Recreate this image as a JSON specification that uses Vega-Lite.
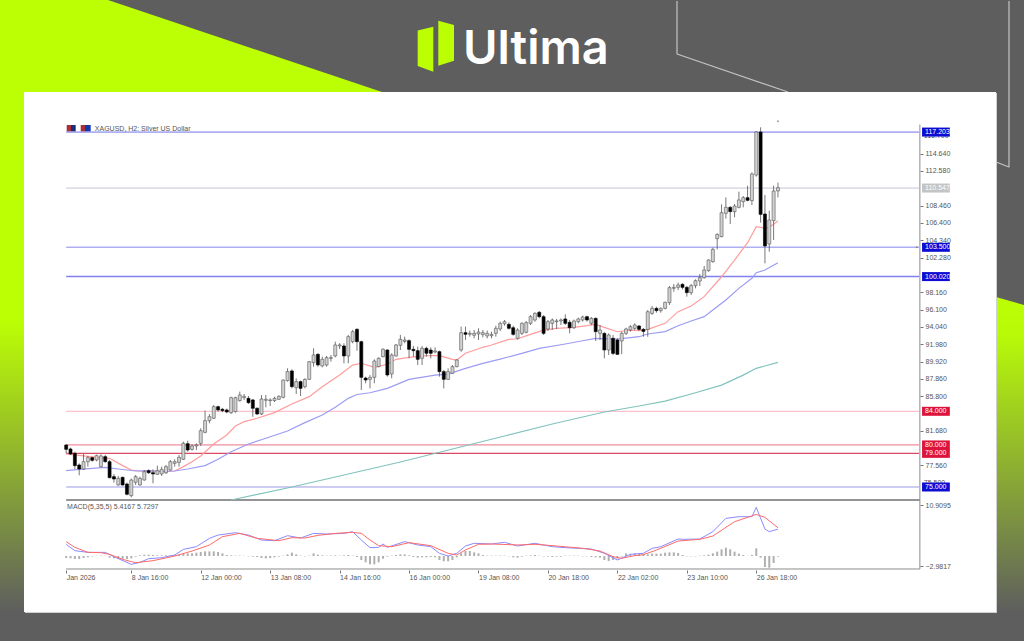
{"$schema":"https://vega.github.io/schema/vega-lite/v6.json","autosize":{"type":"fit","contains":"padding"},"width":1024,"height":643,"padding":0,"background":"#ffffff","view":{"stroke":null},
"datasets":{
"candles":[
{"i":0,"o":79.99,"h":80.11,"l":79.0,"c":79.48,"m":-1.16},{"i":1,"o":79.52,"h":79.68,"l":78.81,"c":78.93,"m":-1.23},{"i":2,"o":79.0,"h":79.2,"l":77.14,"c":77.54,"m":-1.38},{"i":3,"o":77.62,"h":77.81,"l":76.39,"c":77.14,"m":-1.38},{"i":4,"o":77.14,"h":78.92,"l":77.02,"c":78.01,"m":-1.16},{"i":5,"o":78.01,"h":78.69,"l":77.42,"c":78.49,"m":-1.0},{"i":6,"o":78.49,"h":78.61,"l":78.01,"c":78.17,"m":-0.78},{"i":7,"o":78.21,"h":78.85,"l":78.05,"c":78.73,"m":-0.62},{"i":8,"o":77.42,"h":78.89,"l":77.34,"c":78.69,"m":-0.62},{"i":9,"o":78.61,"h":78.81,"l":77.89,"c":78.01,"m":-0.62},
{"i":10,"o":78.01,"h":78.21,"l":76.03,"c":76.11,"m":-1.08},{"i":11,"o":76.23,"h":76.55,"l":75.52,"c":75.95,"m":-1.23},{"i":12,"o":75.24,"h":76.31,"l":75.16,"c":76.03,"m":-1.38},{"i":13,"o":76.15,"h":76.23,"l":75.16,"c":75.24,"m":-1.38},{"i":14,"o":75.36,"h":75.52,"l":74.01,"c":74.13,"m":-1.38},{"i":15,"o":73.97,"h":76.0,"l":73.77,"c":75.83,"m":-1.23},{"i":16,"o":75.56,"h":76.43,"l":75.24,"c":76.23,"m":-0.85},{"i":17,"o":75.24,"h":76.23,"l":75.16,"c":76.03,"m":-0.55},{"i":18,"o":75.83,"h":77.02,"l":75.75,"c":76.82,"m":-0.4},{"i":19,"o":76.94,"h":77.1,"l":76.55,"c":76.7,"m":-0.4},
{"i":20,"o":76.7,"h":77.1,"l":75.44,"c":76.55,"m":-0.47},{"i":21,"o":76.51,"h":77.54,"l":76.43,"c":76.94,"m":-0.55},{"i":22,"o":76.55,"h":77.42,"l":76.31,"c":77.1,"m":-0.55},{"i":23,"o":76.7,"h":77.62,"l":76.55,"c":77.42,"m":-0.55},{"i":24,"o":77.02,"h":78.21,"l":76.94,"c":78.01,"m":-0.55},{"i":25,"o":77.81,"h":78.29,"l":77.42,"c":78.01,"m":-0.47},{"i":26,"o":77.93,"h":78.81,"l":77.42,"c":78.53,"m":-0.4},{"i":27,"o":78.29,"h":80.39,"l":78.21,"c":80.19,"m":-0.24},{"i":28,"o":80.15,"h":80.51,"l":79.2,"c":79.4,"m":-0.09},{"i":29,"o":79.48,"h":80.07,"l":79.32,"c":79.88,"m":-0.09},
{"i":30,"o":79.88,"h":80.19,"l":79.4,"c":80.0,"m":0.06},{"i":31,"o":80.19,"h":81.98,"l":79.88,"c":81.7,"m":0.21},{"i":32,"o":81.5,"h":84.08,"l":81.38,"c":82.89,"m":0.36},{"i":33,"o":82.89,"h":83.68,"l":82.57,"c":83.36,"m":0.36},{"i":34,"o":83.17,"h":84.75,"l":83.09,"c":84.55,"m":0.36},{"i":35,"o":84.55,"h":84.67,"l":83.96,"c":84.16,"m":0.21},{"i":36,"o":84.24,"h":84.4,"l":83.9,"c":84.08,"m":-0.09},{"i":37,"o":84.16,"h":84.32,"l":83.76,"c":83.92,"m":-0.47},{"i":38,"o":83.84,"h":85.74,"l":83.68,"c":85.62,"m":-0.55},{"i":39,"o":83.96,"h":85.74,"l":83.84,"c":85.62,"m":-0.62},
{"i":40,"o":85.27,"h":86.34,"l":85.15,"c":85.94,"m":-0.62},{"i":41,"o":85.62,"h":86.06,"l":85.35,"c":85.78,"m":-0.66},{"i":42,"o":85.54,"h":85.82,"l":84.87,"c":85.03,"m":-0.78},{"i":43,"o":85.35,"h":85.47,"l":83.36,"c":84.36,"m":-0.85},{"i":44,"o":84.36,"h":84.47,"l":83.56,"c":83.68,"m":-0.93},{"i":45,"o":83.68,"h":85.94,"l":83.56,"c":85.47,"m":-1.16},{"i":46,"o":85.31,"h":85.94,"l":84.47,"c":85.43,"m":-1.23},{"i":47,"o":85.27,"h":85.54,"l":84.63,"c":85.35,"m":-1.16},{"i":48,"o":85.27,"h":85.74,"l":85.11,"c":85.54,"m":-1.0},{"i":49,"o":85.43,"h":85.9,"l":85.35,"c":85.78,"m":-0.85},
{"i":50,"o":85.66,"h":87.8,"l":85.54,"c":87.72,"m":-0.62},{"i":51,"o":87.65,"h":89.11,"l":87.53,"c":88.72,"m":-0.32},{"i":52,"o":88.8,"h":88.99,"l":86.73,"c":86.93,"m":0.06},{"i":53,"o":86.81,"h":87.92,"l":86.06,"c":87.53,"m":-0.32},{"i":54,"o":87.53,"h":87.65,"l":85.82,"c":86.73,"m":-0.62},{"i":55,"o":86.93,"h":87.92,"l":86.73,"c":87.8,"m":-0.78},{"i":56,"o":87.8,"h":89.98,"l":87.72,"c":89.9,"m":-0.62},{"i":57,"o":89.79,"h":91.49,"l":89.31,"c":90.7,"m":-0.09},{"i":58,"o":90.78,"h":90.9,"l":89.31,"c":89.51,"m":-0.4},{"i":59,"o":89.39,"h":90.5,"l":89.23,"c":90.18,"m":-0.55},
{"i":60,"o":89.51,"h":90.58,"l":89.31,"c":90.38,"m":-0.62},{"i":61,"o":90.3,"h":90.7,"l":89.9,"c":90.38,"m":-0.62},{"i":62,"o":90.58,"h":92.28,"l":90.42,"c":91.89,"m":-0.55},{"i":63,"o":91.77,"h":92.1,"l":91.4,"c":91.89,"m":-0.62},{"i":64,"o":91.77,"h":92.08,"l":89.71,"c":90.58,"m":-0.55},{"i":65,"o":90.58,"h":93.08,"l":89.71,"c":92.88,"m":-0.47},{"i":66,"o":92.28,"h":93.67,"l":92.09,"c":93.47,"m":-0.62},{"i":67,"o":93.75,"h":93.87,"l":91.21,"c":92.28,"m":-0.93},{"i":68,"o":92.28,"h":92.4,"l":86.54,"c":88.04,"m":-1.61},{"i":69,"o":87.96,"h":88.12,"l":87.33,"c":87.72,"m":-2.14},
{"i":70,"o":87.8,"h":88.32,"l":86.73,"c":88.04,"m":-2.6},{"i":71,"o":88.04,"h":90.18,"l":87.33,"c":89.98,"m":-2.6},{"i":72,"o":89.31,"h":90.42,"l":89.23,"c":90.3,"m":-2.14},{"i":73,"o":90.5,"h":91.49,"l":90.42,"c":91.37,"m":-1.31},{"i":74,"o":91.29,"h":91.37,"l":88.12,"c":88.32,"m":-0.85},{"i":75,"o":88.44,"h":90.9,"l":87.92,"c":90.7,"m":-0.62},{"i":76,"o":90.58,"h":92.0,"l":90.5,"c":91.89,"m":-0.47},{"i":77,"o":91.85,"h":93.08,"l":91.29,"c":92.56,"m":-0.32},{"i":78,"o":92.32,"h":92.88,"l":92.09,"c":92.48,"m":-0.32},{"i":79,"o":92.4,"h":92.56,"l":90.3,"c":91.37,"m":-0.55},
{"i":80,"o":91.37,"h":91.77,"l":90.5,"c":91.21,"m":-0.93},{"i":81,"o":91.21,"h":91.69,"l":89.51,"c":90.18,"m":-1.08},{"i":82,"o":90.3,"h":91.77,"l":89.51,"c":91.49,"m":-1.0},{"i":83,"o":91.49,"h":91.69,"l":90.5,"c":90.9,"m":-1.0},{"i":84,"o":91.29,"h":91.61,"l":90.3,"c":90.9,"m":-0.93},{"i":85,"o":91.05,"h":91.61,"l":90.9,"c":91.17,"m":-1.0},{"i":86,"o":91.09,"h":91.21,"l":88.12,"c":88.72,"m":-1.61},{"i":87,"o":88.72,"h":88.91,"l":86.73,"c":87.8,"m":-1.91},{"i":88,"o":87.8,"h":89.11,"l":87.72,"c":88.72,"m":-1.91},{"i":89,"o":88.52,"h":89.51,"l":88.44,"c":89.31,"m":-1.61},
{"i":90,"o":89.31,"h":90.18,"l":89.23,"c":90.1,"m":-1.0},{"i":91,"o":91.29,"h":94.07,"l":91.09,"c":93.35,"m":-0.09},{"i":92,"o":93.35,"h":94.07,"l":92.48,"c":93.16,"m":0.44},{"i":93,"o":93.16,"h":93.6,"l":92.88,"c":93.27,"m":0.44},{"i":94,"o":93.04,"h":93.67,"l":92.68,"c":93.27,"m":0.13},{"i":95,"o":93.2,"h":93.87,"l":92.48,"c":93.43,"m":-0.09},{"i":96,"o":93.12,"h":93.67,"l":92.8,"c":93.35,"m":-0.47},{"i":97,"o":92.96,"h":93.6,"l":92.68,"c":93.27,"m":-0.62},{"i":98,"o":92.99,"h":93.47,"l":92.68,"c":93.15,"m":-0.62},{"i":99,"o":93.27,"h":94.18,"l":92.87,"c":93.87,"m":-0.62},
{"i":100,"o":93.79,"h":94.66,"l":93.55,"c":94.46,"m":-0.62},{"i":101,"o":94.42,"h":94.86,"l":94.18,"c":94.66,"m":-0.62},{"i":102,"o":94.34,"h":94.58,"l":93.71,"c":93.87,"m":-0.78},{"i":103,"o":93.94,"h":94.18,"l":92.99,"c":93.15,"m":-1.0},{"i":104,"o":92.68,"h":93.87,"l":92.52,"c":93.67,"m":-1.08},{"i":105,"o":93.27,"h":94.58,"l":93.07,"c":94.46,"m":-0.85},{"i":106,"o":93.39,"h":94.74,"l":93.27,"c":94.54,"m":-0.62},{"i":107,"o":94.46,"h":95.45,"l":94.26,"c":95.25,"m":-0.55},{"i":108,"o":94.86,"h":95.77,"l":94.66,"c":95.65,"m":-0.47},{"i":109,"o":95.77,"h":95.93,"l":95.05,"c":95.25,"m":-0.62},
{"i":110,"o":95.25,"h":95.45,"l":93.07,"c":93.27,"m":-0.78},{"i":111,"o":93.79,"h":94.86,"l":93.55,"c":94.66,"m":-0.85},{"i":112,"o":94.46,"h":95.05,"l":93.67,"c":94.86,"m":-0.93},{"i":113,"o":94.66,"h":94.98,"l":93.79,"c":94.74,"m":-0.85},{"i":114,"o":94.74,"h":95.05,"l":94.26,"c":94.86,"m":-0.85},{"i":115,"o":94.98,"h":95.53,"l":94.26,"c":94.46,"m":-0.62},{"i":116,"o":94.58,"h":94.86,"l":93.27,"c":93.94,"m":-0.62},{"i":117,"o":93.94,"h":94.9,"l":93.79,"c":94.74,"m":-0.62},{"i":118,"o":94.66,"h":95.13,"l":94.46,"c":94.98,"m":-0.62},{"i":119,"o":94.86,"h":95.37,"l":94.66,"c":95.21,"m":-0.78},
{"i":120,"o":95.25,"h":95.37,"l":94.66,"c":94.86,"m":-0.78},{"i":121,"o":94.46,"h":95.21,"l":94.26,"c":95.05,"m":-0.93},{"i":122,"o":95.05,"h":95.17,"l":92.36,"c":93.47,"m":-1.0},{"i":123,"o":93.27,"h":94.26,"l":92.48,"c":93.67,"m":-1.08},{"i":124,"o":93.27,"h":93.39,"l":90.3,"c":91.29,"m":-1.61},{"i":125,"o":91.29,"h":93.27,"l":90.69,"c":93.07,"m":-1.84},{"i":126,"o":92.68,"h":93.07,"l":90.69,"c":90.89,"m":-1.61},{"i":127,"o":92.48,"h":92.68,"l":90.69,"c":90.77,"m":-1.31},{"i":128,"o":92.36,"h":93.47,"l":90.8,"c":93.27,"m":-0.85},{"i":129,"o":93.27,"h":93.94,"l":93.07,"c":93.79,"m":-0.09},
{"i":130,"o":93.67,"h":94.26,"l":93.47,"c":94.06,"m":-0.24},{"i":131,"o":93.86,"h":94.46,"l":93.66,"c":94.26,"m":-0.09},{"i":132,"o":94.14,"h":94.26,"l":93.58,"c":93.74,"m":-0.24},{"i":133,"o":93.74,"h":93.9,"l":92.87,"c":93.5,"m":-0.24},{"i":134,"o":93.74,"h":96.04,"l":92.87,"c":95.84,"m":-0.32},{"i":135,"o":95.65,"h":96.52,"l":95.45,"c":96.24,"m":-0.17},{"i":136,"o":96.24,"h":96.44,"l":95.73,"c":95.97,"m":-0.17},{"i":137,"o":95.97,"h":96.36,"l":95.73,"c":96.24,"m":-0.17},{"i":138,"o":96.24,"h":97.04,"l":96.12,"c":96.96,"m":0.06},{"i":139,"o":96.92,"h":98.9,"l":96.64,"c":98.7,"m":0.13},
{"i":140,"o":98.62,"h":99.14,"l":98.22,"c":98.74,"m":0.13},{"i":141,"o":98.74,"h":99.3,"l":98.42,"c":99.02,"m":-0.02},{"i":142,"o":99.1,"h":99.22,"l":98.5,"c":98.74,"m":-0.47},{"i":143,"o":98.74,"h":98.9,"l":97.63,"c":98.11,"m":-0.78},{"i":144,"o":98.11,"h":99.14,"l":97.83,"c":98.94,"m":-0.78},{"i":145,"o":98.94,"h":99.69,"l":98.62,"c":99.53,"m":-0.78},{"i":146,"o":99.49,"h":100.33,"l":98.9,"c":99.89,"m":-0.62},{"i":147,"o":99.89,"h":101.28,"l":99.77,"c":100.8,"m":-0.55},{"i":148,"o":100.72,"h":102.07,"l":100.6,"c":101.99,"m":-0.4},{"i":149,"o":101.79,"h":103.46,"l":101.67,"c":103.26,"m":-0.09},
{"i":150,"o":104.53,"h":105.16,"l":103.26,"c":105.04,"m":0.29},{"i":151,"o":104.77,"h":108.61,"l":104.69,"c":107.62,"m":0.82},{"i":152,"o":107.54,"h":109.44,"l":106.91,"c":108.25,"m":1.2},{"i":153,"o":108.25,"h":108.41,"l":106.27,"c":107.74,"m":0.82},{"i":154,"o":107.74,"h":108.65,"l":107.07,"c":108.41,"m":0.29},{"i":155,"o":108.25,"h":110.12,"l":108.13,"c":109.13,"m":-0.17},{"i":156,"o":108.93,"h":109.6,"l":108.25,"c":109.4,"m":-0.47},{"i":157,"o":109.4,"h":110.83,"l":108.97,"c":109.09,"m":-0.66},{"i":158,"o":109.05,"h":112.42,"l":108.53,"c":112.22,"m":-0.47},{"i":159,"o":112.1,"h":117.33,"l":111.9,"c":117.21,"m":1.05},
{"i":160,"o":117.21,"h":117.77,"l":106.43,"c":107.42,"m":-1.08},{"i":161,"o":107.46,"h":109.72,"l":101.59,"c":103.66,"m":-3.2},{"i":162,"o":103.89,"h":107.86,"l":102.98,"c":106.75,"m":-3.36},{"i":163,"o":106.67,"h":110.83,"l":104.37,"c":110.2,"m":-2.29},{"i":164,"o":110.2,"h":111.19,"l":109.44,"c":110.59,"m":-0.85}],
"ma":[
{"i":0,"s":"fast","p":78.92},{"i":4,"s":"fast","p":78.69},{"i":7,"s":"fast","p":78.53},{"i":10,"s":"fast","p":78.41},{"i":11,"s":"fast","p":78.13},{"i":13,"s":"fast","p":77.54},{"i":15,"s":"fast","p":77.02},{"i":17,"s":"fast","p":76.9},{"i":22,"s":"fast","p":76.86},{"i":25,"s":"fast","p":76.9},{"i":27,"s":"fast","p":77.42},{"i":29,"s":"fast","p":78.01},{"i":31,"s":"fast","p":78.69},{"i":34,"s":"fast","p":80.11},{"i":37,"s":"fast","p":81.18},{"i":39,"s":"fast","p":82.25},{"i":41,"s":"fast","p":82.77},{"i":44,"s":"fast","p":83.17},{"i":48,"s":"fast","p":83.84},{"i":52,"s":"fast","p":84.87},{"i":56,"s":"fast","p":85.74},{"i":59,"s":"fast","p":86.93},{"i":63,"s":"fast","p":88.32},{"i":66,"s":"fast","p":89.5},{"i":68,"s":"fast","p":89.71},{"i":71,"s":"fast","p":89.23},{"i":74,"s":"fast","p":89.59},{"i":76,"s":"fast","p":90.18},{"i":79,"s":"fast","p":90.42},{"i":83,"s":"fast","p":90.62},{"i":86,"s":"fast","p":90.62},{"i":89,"s":"fast","p":90.18},{"i":90,"s":"fast","p":90.1},{"i":92,"s":"fast","p":90.9},{"i":96,"s":"fast","p":91.61},{"i":98,"s":"fast","p":91.88},{"i":102,"s":"fast","p":92.55},{"i":104,"s":"fast","p":92.63},{"i":107,"s":"fast","p":93.15},{"i":110,"s":"fast","p":93.66},{"i":113,"s":"fast","p":93.86},{"i":117,"s":"fast","p":93.98},{"i":120,"s":"fast","p":94.18},{"i":122,"s":"fast","p":94.34},{"i":124,"s":"fast","p":93.98},{"i":127,"s":"fast","p":93.46},{"i":130,"s":"fast","p":93.66},{"i":132,"s":"fast","p":93.59},{"i":134,"s":"fast","p":93.75},{"i":138,"s":"fast","p":94.46},{"i":141,"s":"fast","p":95.85},{"i":144,"s":"fast","p":96.52},{"i":147,"s":"fast","p":97.63},{"i":151,"s":"fast","p":100.0},{"i":154,"s":"fast","p":101.99},{"i":157,"s":"fast","p":104.05},{"i":159,"s":"fast","p":105.95},{"i":161,"s":"fast","p":105.76},{"i":162,"s":"fast","p":105.88},{"i":164,"s":"fast","p":106.63},
{"i":0,"s":"mid","p":76.94},{"i":3,"s":"mid","p":77.1},{"i":6,"s":"mid","p":77.22},{"i":9,"s":"mid","p":77.34},{"i":12,"s":"mid","p":77.14},{"i":16,"s":"mid","p":76.9},{"i":19,"s":"mid","p":76.94},{"i":22,"s":"mid","p":76.82},{"i":25,"s":"mid","p":76.9},{"i":28,"s":"mid","p":77.14},{"i":32,"s":"mid","p":77.54},{"i":35,"s":"mid","p":78.29},{"i":38,"s":"mid","p":79.2},{"i":42,"s":"mid","p":80.11},{"i":46,"s":"mid","p":80.79},{"i":51,"s":"mid","p":81.66},{"i":55,"s":"mid","p":82.65},{"i":59,"s":"mid","p":83.56},{"i":62,"s":"mid","p":84.47},{"i":65,"s":"mid","p":85.54},{"i":67,"s":"mid","p":86.0},{"i":70,"s":"mid","p":86.21},{"i":74,"s":"mid","p":86.73},{"i":79,"s":"mid","p":87.8},{"i":85,"s":"mid","p":88.31},{"i":88,"s":"mid","p":88.43},{"i":92,"s":"mid","p":89.1},{"i":96,"s":"mid","p":89.7},{"i":100,"s":"mid","p":90.21},{"i":105,"s":"mid","p":90.89},{"i":109,"s":"mid","p":91.48},{"i":115,"s":"mid","p":92.0},{"i":119,"s":"mid","p":92.39},{"i":122,"s":"mid","p":92.67},{"i":127,"s":"mid","p":92.59},{"i":132,"s":"mid","p":92.87},{"i":134,"s":"mid","p":93.19},{"i":138,"s":"mid","p":93.47},{"i":141,"s":"mid","p":94.18},{"i":144,"s":"mid","p":94.74},{"i":147,"s":"mid","p":95.25},{"i":149,"s":"mid","p":96.05},{"i":152,"s":"mid","p":97.23},{"i":155,"s":"mid","p":98.62},{"i":158,"s":"mid","p":99.81},{"i":159,"s":"mid","p":100.48},{"i":161,"s":"mid","p":100.8},{"i":164,"s":"mid","p":101.67},
{"i":38,"s":"slow","p":73.45},{"i":52,"s":"slow","p":75.0},{"i":61,"s":"slow","p":76.07},{"i":77,"s":"slow","p":77.97},{"i":89,"s":"slow","p":79.52},{"i":101,"s":"slow","p":81.06},{"i":112,"s":"slow","p":82.49},{"i":124,"s":"slow","p":83.92},{"i":132,"s":"slow","p":84.63},{"i":138,"s":"slow","p":85.22},{"i":145,"s":"slow","p":86.21},{"i":151,"s":"slow","p":87.12},{"i":156,"s":"slow","p":88.3},{"i":159,"s":"slow","p":89.11},{"i":164,"s":"slow","p":89.82}],
"macd":[
{"i":0,"s":"macd","v":1.95},{"i":2,"s":"macd","v":0.51},{"i":5,"s":"macd","v":0.13},{"i":9,"s":"macd","v":0.13},{"i":11,"s":"macd","v":-0.86},{"i":15,"s":"macd","v":-2.6},{"i":17,"s":"macd","v":-2.15},{"i":19,"s":"macd","v":-1.31},{"i":22,"s":"macd","v":-1.09},{"i":25,"s":"macd","v":-0.48},{"i":27,"s":"macd","v":0.81},{"i":30,"s":"macd","v":1.42},{"i":33,"s":"macd","v":3.32},{"i":35,"s":"macd","v":4.07},{"i":39,"s":"macd","v":4.61},{"i":42,"s":"macd","v":4.07},{"i":45,"s":"macd","v":2.94},{"i":48,"s":"macd","v":2.78},{"i":51,"s":"macd","v":3.93},{"i":54,"s":"macd","v":3.39},{"i":57,"s":"macd","v":4.45},{"i":60,"s":"macd","v":4.3},{"i":64,"s":"macd","v":4.45},{"i":66,"s":"macd","v":4.84},{"i":68,"s":"macd","v":2.94},{"i":70,"s":"macd","v":1.2},{"i":72,"s":"macd","v":1.27},{"i":73,"s":"macd","v":2.03},{"i":74,"s":"macd","v":1.27},{"i":78,"s":"macd","v":2.57},{"i":81,"s":"macd","v":1.81},{"i":84,"s":"macd","v":1.43},{"i":86,"s":"macd","v":-0.09},{"i":88,"s":"macd","v":-0.7},{"i":90,"s":"macd","v":-0.09},{"i":92,"s":"macd","v":1.58},{"i":94,"s":"macd","v":2.19},{"i":98,"s":"macd","v":2.03},{"i":101,"s":"macd","v":2.41},{"i":104,"s":"macd","v":1.58},{"i":108,"s":"macd","v":2.19},{"i":112,"s":"macd","v":1.43},{"i":115,"s":"macd","v":1.2},{"i":121,"s":"macd","v":0.9},{"i":124,"s":"macd","v":-0.09},{"i":127,"s":"macd","v":-1.61},{"i":130,"s":"macd","v":-0.32},{"i":133,"s":"macd","v":-0.09},{"i":135,"s":"macd","v":1.04},{"i":137,"s":"macd","v":1.42},{"i":141,"s":"macd","v":3.17},{"i":142,"s":"macd","v":3.09},{"i":146,"s":"macd","v":3.17},{"i":149,"s":"macd","v":4.84},{"i":152,"s":"macd","v":7.87},{"i":155,"s":"macd","v":8.25},{"i":158,"s":"macd","v":8.25},{"i":159,"s":"macd","v":10.38},{"i":161,"s":"macd","v":5.44},{"i":162,"s":"macd","v":4.84},{"i":164,"s":"macd","v":5.42},
{"i":0,"s":"signal","v":2.56},{"i":2,"s":"signal","v":1.27},{"i":5,"s":"signal","v":0.13},{"i":8,"s":"signal","v":0.05},{"i":10,"s":"signal","v":-0.33},{"i":13,"s":"signal","v":-1.47},{"i":16,"s":"signal","v":-2.23},{"i":20,"s":"signal","v":-1.77},{"i":25,"s":"signal","v":-0.71},{"i":29,"s":"signal","v":0.43},{"i":33,"s":"signal","v":1.8},{"i":36,"s":"signal","v":3.7},{"i":40,"s":"signal","v":4.45},{"i":44,"s":"signal","v":3.32},{"i":49,"s":"signal","v":2.78},{"i":52,"s":"signal","v":3.47},{"i":55,"s":"signal","v":3.39},{"i":58,"s":"signal","v":4.0},{"i":62,"s":"signal","v":4.45},{"i":66,"s":"signal","v":4.68},{"i":68,"s":"signal","v":4.46},{"i":70,"s":"signal","v":2.94},{"i":72,"s":"signal","v":1.65},{"i":75,"s":"signal","v":1.43},{"i":79,"s":"signal","v":2.34},{"i":84,"s":"signal","v":1.65},{"i":88,"s":"signal","v":-0.09},{"i":90,"s":"signal","v":-0.47},{"i":92,"s":"signal","v":0.67},{"i":95,"s":"signal","v":1.96},{"i":98,"s":"signal","v":2.03},{"i":104,"s":"signal","v":1.81},{"i":108,"s":"signal","v":1.96},{"i":113,"s":"signal","v":1.58},{"i":119,"s":"signal","v":1.05},{"i":123,"s":"signal","v":0.44},{"i":126,"s":"signal","v":-0.85},{"i":128,"s":"signal","v":-1.23},{"i":131,"s":"signal","v":-0.62},{"i":133,"s":"signal","v":-0.4},{"i":136,"s":"signal","v":0.66},{"i":141,"s":"signal","v":2.71},{"i":146,"s":"signal","v":3.09},{"i":149,"s":"signal","v":3.85},{"i":154,"s":"signal","v":7.11},{"i":157,"s":"signal","v":8.1},{"i":159,"s":"signal","v":8.78},{"i":161,"s":"signal","v":8.1},{"i":164,"s":"signal","v":5.73}],
"levels":[{"p":117.203,"t":"117.203"},{"p":110.547,"t":"110.547"},{"p":103.5,"t":"103.500"},{"p":100.02,"t":"100.020"},{"p":84,"t":"84.000"},{"p":80,"t":"80.000"},{"p":79,"t":"79.000"},{"p":75,"t":"75.000"}],
"hiddenTicks":[{"p":116.7,"t":"116.700"},{"p":75.5,"t":"75.500"}],
"notes":[{"i":6.6,"p":117.57,"t":"XAGUSD, H2:  Silver US Dollar"},{"i":0.2,"p":72.62,"t":"MACD(5,35,5) 5.4167 5.7297"}],
"dots":[{"i":164,"p":118.5},{"i":196,"p":103.5}],
"frameH":[{"a":0,"b":196.7,"p":73.45,"k":"sep"},{"a":0,"b":196.7,"p":65.25,"k":"bottom"}],
"frameV":[{"i":196.7,"a":118.1,"b":65.25}],
"rects":[{"k":"page","x":0,"x2":1024,"y":0,"y2":641},{"k":"green","x":0,"x2":24,"y":92,"y2":320},{"k":"edge","x":25,"x2":997,"y":93,"y2":613},{"k":"panel","x":24,"x2":996,"y":92,"y2":612},{"k":"red","x":66.7,"x2":71,"y":125,"y2":132},{"k":"navy","x":71,"x2":75.7,"y":125,"y2":132},{"k":"red","x":80.7,"x2":85,"y":125,"y2":132},{"k":"blue","x":85,"x2":90.7,"y":125,"y2":132}],
"tri":[{"x":0,"y":0,"y2":92},{"x":108,"y":0,"y2":92},{"x":382,"y":92,"y2":92}],
"leftFade":[{"x":0,"x2":24,"y":320,"y2":612}],
"rightFade":[{"x":996,"y":297,"y2":612},{"x":1024,"y":305,"y2":612}],
"outline":[{"g":"a","o":1,"x":677,"y":1},{"g":"a","o":2,"x":677,"y":54},{"g":"a","o":3,"x":788,"y":92},{"g":"b","o":1,"x":996,"y":162},{"g":"b","o":2,"x":1009,"y":167},{"g":"b","o":3,"x":1009,"y":1}],
"logo":[{"g":"l","x":417.7,"y":30.5,"y2":66},{"g":"l","x":433.3,"y":26.7,"y2":71.7},{"g":"r","x":438.3,"y":20.7,"y2":65.7},{"g":"r","x":454,"y":25,"y2":60.7}],
"brand":[{"x":463,"y":64,"t":"Ultima"}]
},
"layer":[
{"encoding":{"x":{"field":"x","type":"quantitative","scale":{"domain":[0,1024],"nice":false,"zero":false},"axis":null},"y":{"field":"y","type":"quantitative","scale":{"domain":[643,0],"nice":false,"zero":false},"axis":null}},
"layer":[
{"data":{"name":"rects"},"transform":[{"filter":"datum.k=='page'"}],"mark":{"type":"rect","color":"#5e5e5e"},"encoding":{"x2":{"field":"x2"},"y2":{"field":"y2"}}},
{"data":{"name":"tri"},"mark":{"type":"area","color":"#bcff04"},"encoding":{"y2":{"field":"y2"}}},
{"data":{"name":"rects"},"transform":[{"filter":"datum.k=='green'"}],"mark":{"type":"rect","color":"#bcff04"},"encoding":{"x2":{"field":"x2"},"y2":{"field":"y2"}}},
{"data":{"name":"leftFade"},"mark":{"type":"rect","color":{"gradient":"linear","x1":0,"y1":0,"x2":0,"y2":1,"stops":[{"offset":0,"color":"#bcff04"},{"offset":1,"color":"#5e5e5e"}]}},"encoding":{"x2":{"field":"x2"},"y2":{"field":"y2"}}},
{"data":{"name":"rightFade"},"mark":{"type":"area","color":{"gradient":"linear","x1":0,"y1":0,"x2":0,"y2":1,"stops":[{"offset":0,"color":"#bcff04"},{"offset":0.12,"color":"#b8fa08"},{"offset":1,"color":"#5e5e5e"}]}},"encoding":{"y2":{"field":"y2"}}},
{"data":{"name":"outline"},"mark":{"type":"line","color":"#c4c4c4","strokeWidth":1.2,"strokeJoin":"round"},"encoding":{"detail":{"field":"g"},"order":{"field":"o"}}},
{"data":{"name":"rects"},"transform":[{"filter":"datum.k=='edge'"}],"mark":{"type":"rect","color":"#cfcfcf"},"encoding":{"x2":{"field":"x2"},"y2":{"field":"y2"}}},
{"data":{"name":"rects"},"transform":[{"filter":"datum.k=='panel'"}],"mark":{"type":"rect","color":"#ffffff"},"encoding":{"x2":{"field":"x2"},"y2":{"field":"y2"}}},
{"data":{"name":"rects"},"transform":[{"filter":"indexof(['red','navy','blue'],datum.k)>=0"}],"mark":{"type":"rect"},"encoding":{"x2":{"field":"x2"},"y2":{"field":"y2"},"color":{"field":"k","type":"nominal","legend":null,"scale":{"domain":["red","navy","blue"],"range":["#a83038","#1c2c78","#1238b0"]}}}},
{"data":{"name":"logo"},"mark":{"type":"area","color":"#bcff04"},"encoding":{"y2":{"field":"y2"},"detail":{"field":"g"}}},
{"data":{"name":"brand"},"mark":{"type":"text","align":"left","baseline":"alphabetic","font":"Inter","fontWeight":600,"fontSize":47,"color":"#ffffff"},"encoding":{"text":{"field":"t"}}}
]},
{"layer":[
{"data":{"name":"frameH"},"mark":{"type":"rule"},"encoding":{"x":{"field":"a","type":"quantitative","scale":{"domain":[-15.25,220.69],"nice":false,"zero":false},"axis":null},"x2":{"field":"b"},"y":{"field":"p","type":"quantitative","scale":{"domain":[56.45,132.907],"nice":false,"zero":false},"axis":null},"color":{"field":"k","type":"nominal","legend":null,"scale":{"domain":["sep","bottom"],"range":["#707070","#8c8c8c"]}},"strokeWidth":{"field":"k","type":"nominal","legend":null,"scale":{"domain":["sep","bottom"],"range":[1.6,1]}}}},
{"data":{"name":"frameV"},"mark":{"type":"rule","color":"#8c8c8c","strokeWidth":1},"encoding":{"x":{"field":"i","type":"quantitative","axis":null},"y":{"field":"a","type":"quantitative","axis":null},"y2":{"field":"b"}}},
{"data":{"name":"hiddenTicks"},"mark":{"type":"text","align":"left","font":"Liberation Sans","fontSize":7,"color":"#555555"},"encoding":{"x":{"datum":197.6,"type":"quantitative","axis":null},"y":{"field":"p","type":"quantitative","axis":null},"text":{"field":"t"}}},
{"data":{"name":"levels"},"mark":{"type":"rule"},"encoding":{"x":{"datum":0,"type":"quantitative","axis":null},"x2":{"datum":196.5},"y":{"field":"p","type":"quantitative","axis":null},"color":{"field":"t","type":"nominal","legend":null,"scale":{"domain":["117.203","110.547","103.500","100.020","84.000","80.000","79.000","75.000"],"range":["#aeaef2","#dedeea","#aeaef2","#8080ee","#f9c2cc","#f08c9e","#da4a64","#9a9ae6"]}},"strokeWidth":{"field":"t","type":"nominal","legend":null,"scale":{"domain":["117.203","110.547","103.500","100.020","84.000","80.000","79.000","75.000"],"range":[1.8,1,1.8,1,1.8,1.2,1,1.2]}}}},
{"data":{"name":"ma"},"mark":{"type":"line"},"encoding":{"x":{"field":"i","type":"quantitative","axis":null},"y":{"field":"p","type":"quantitative","axis":null},"color":{"field":"s","type":"nominal","legend":null,"scale":{"domain":["fast","mid","slow"],"range":["#ff9c9c","#9c9cf4","#80c4bc"]}},"strokeWidth":{"value":1.2}}},
{"data":{"name":"candles"},"mark":{"type":"rule","color":"#555555","strokeWidth":0.8},"encoding":{"x":{"field":"i","type":"quantitative","axis":null},"y":{"field":"h","type":"quantitative","axis":null},"y2":{"field":"l"}}},
{"data":{"name":"candles"},"mark":{"type":"rect","width":3,"strokeWidth":0.6},"encoding":{"x":{"field":"i","type":"quantitative","axis":null},"y":{"field":"o","type":"quantitative","axis":null},"y2":{"field":"c"},"color":{"condition":{"test":"datum.c<datum.o","value":"#000000"},"value":"#d2d2d2"},"stroke":{"condition":{"test":"datum.c<datum.o","value":"#000000"},"value":"#555555"}}},
{"data":{"name":"dots"},"mark":{"type":"point","filled":true,"size":4,"color":"#777777"},"encoding":{"x":{"field":"i","type":"quantitative","axis":null},"y":{"field":"p","type":"quantitative","axis":null}}},
{"data":{"name":"notes"},"mark":{"type":"text","align":"left","font":"Liberation Sans","fontSize":7,"color":"#555555"},"encoding":{"x":{"field":"i","type":"quantitative","axis":null},"y":{"field":"p","type":"quantitative","axis":null},"text":{"field":"t"}}},
{"data":{"name":"levels"},"mark":{"type":"rect","height":9},"encoding":{"x":{"datum":197.2,"type":"quantitative","axis":null},"x2":{"datum":203.6},"y":{"field":"p","type":"quantitative","axis":null},"color":{"field":"t","type":"nominal","legend":null,"scale":{"domain":["117.203","110.547","103.500","100.020","84.000","80.000","79.000","75.000"],"range":["#0c0cd2","#c4c4c4","#0c0cd2","#0c0cd2","#dc143c","#dc143c","#dc143c","#0c0cd2"]}}}},
{"data":{"name":"levels"},"mark":{"type":"text","align":"left","font":"Liberation Sans","fontSize":7,"color":"#ffffff"},"encoding":{"x":{"datum":197.9,"type":"quantitative","axis":null},"y":{"field":"p","type":"quantitative","axis":null},"text":{"field":"t"}}}
],"resolve":{"scale":{"color":"independent","strokeWidth":"independent"}}},
{"layer":[
{"data":{"name":"candles"},"mark":{"type":"rule","color":"#b0b0b0","strokeWidth":2},"encoding":{"x":{"field":"i","type":"quantitative","scale":{"domain":[-15.25,220.69],"nice":false,"zero":false},"axis":null},"y":{"field":"m","type":"quantitative","scale":{"domain":[-20.51,125.9],"nice":false,"zero":false},"axis":null},"y2":{"datum":-0.7}}},
{"data":{"name":"macd"},"mark":{"type":"line","strokeWidth":1},"encoding":{"x":{"field":"i","type":"quantitative","axis":null},"y":{"field":"v","type":"quantitative","axis":null},"color":{"field":"s","type":"nominal","legend":null,"scale":{"domain":["macd","signal"],"range":["#8a8aff","#ff6a6a"]}}}}
]},
{"data":{"name":"dots"},"mark":{"type":"point","opacity":0},"encoding":{"x":{"field":"i","type":"quantitative","scale":{"domain":[-15.25,220.69],"nice":false,"zero":false},"axis":{"orient":"bottom","offset":-73,"title":null,"domain":false,"grid":false,"values":[0,15,31,47,63,79,95,111,127,143,159],"labelExpr":"{'0':'Jan 2026','15':'8 Jan 16:00','31':'12 Jan 00:00','47':'13 Jan 08:00','63':'14 Jan 16:00','79':'16 Jan 00:00','95':'19 Jan 08:00','111':'20 Jan 18:00','127':'22 Jan 02:00','143':'23 Jan 10:00','159':'26 Jan 18:00'}[''+datum.value]","labelAlign":"left","labelBaseline":"top","labelPadding":0,"labelFont":"Liberation Sans","labelFontSize":7,"labelColor":"#555555","labelOverlap":false,"labelBound":false,"labelFlush":false,"tickColor":"#777777","tickSize":3,"zindex":1}},"y":{"field":"p","type":"quantitative","scale":{"domain":[56.45,132.907],"nice":false,"zero":false},"axis":{"orient":"right","offset":-104,"title":null,"domain":false,"grid":false,"values":[114.64,112.58,108.46,106.4,104.34,102.28,98.16,96.1,94.04,91.98,89.92,87.86,85.8,81.68,77.56],"format":".3f","labelAlign":"left","labelPadding":2,"labelFont":"Liberation Sans","labelFontSize":7,"labelColor":"#555555","labelOverlap":false,"labelBound":false,"labelFlush":false,"tickColor":"#777777","tickSize":3,"zindex":1}}}},
{"data":{"name":"dots"},"mark":{"type":"point","opacity":0},"encoding":{"x":{"field":"i","type":"quantitative","scale":{"domain":[-15.25,220.69],"nice":false,"zero":false},"axis":null},"y":{"datum":0,"type":"quantitative","scale":{"domain":[-20.51,125.9],"nice":false,"zero":false},"axis":{"orient":"right","offset":-104,"title":null,"domain":false,"grid":false,"values":[10.9095,-2.9817],"format":".4f","labelAlign":"left","labelPadding":2,"labelFont":"Liberation Sans","labelFontSize":7,"labelColor":"#555555","labelOverlap":false,"labelBound":false,"labelFlush":false,"tickColor":"#777777","tickSize":3,"zindex":1}}}}
],
"resolve":{"scale":{"x":"independent","y":"independent","color":"independent","strokeWidth":"independent"},"axis":{"x":"independent","y":"independent"}}
}
